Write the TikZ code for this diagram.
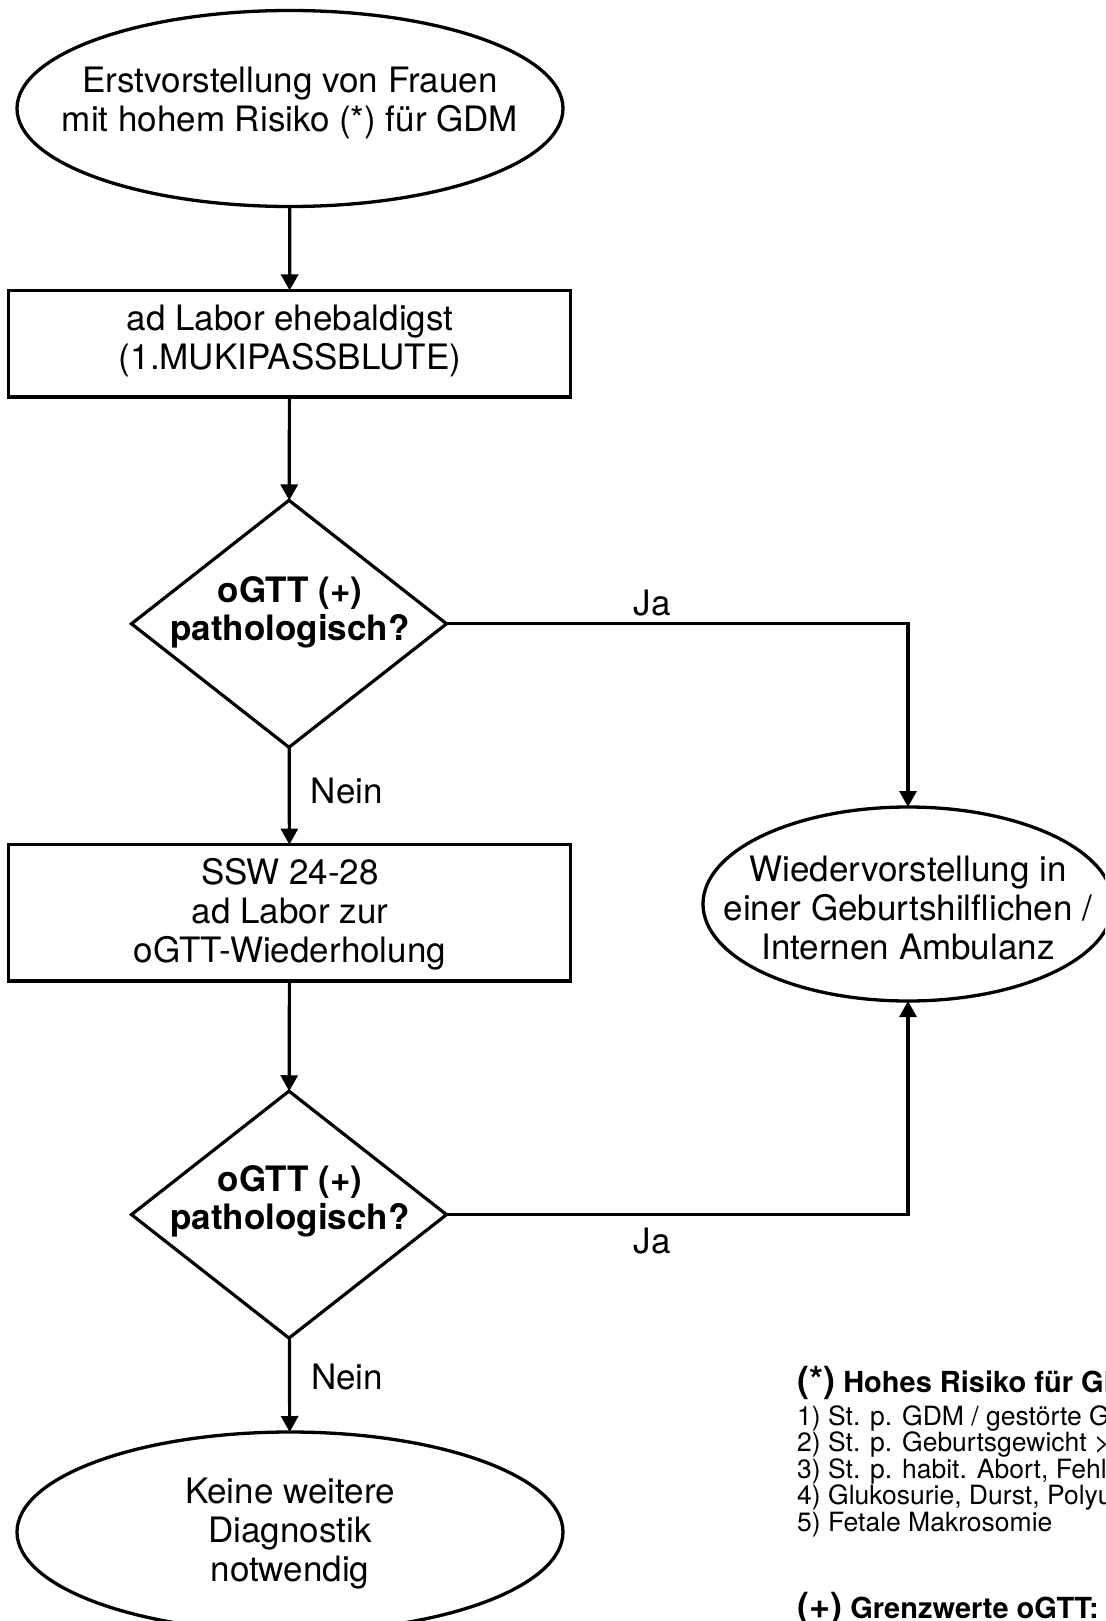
\documentclass[tikz,border=0pt]{standalone}
\usepackage{fontspec}
\setmainfont{TeX Gyre Heros}
\usetikzlibrary{arrows.meta}
\usetikzlibrary{shapes.geometric}
\tikzset{>={Triangle[length=16pt,width=17pt]}}
\tikzset{
  box/.style={draw, rectangle, line width=3.2pt, minimum width=562pt, inner sep=0pt, outer sep=0pt},
  term/.style={draw, ellipse, line width=3.3pt, inner sep=0pt, outer sep=0pt},
  ask/.style={draw, diamond, line width=3.2pt, minimum width=315pt, minimum height=247pt, inner sep=0pt, outer sep=0pt},
  txt/.style={align=center, font=\fontsize{35}{39}\selectfont, inner sep=0pt},
  asktxt/.style={align=center, font=\bfseries\fontsize{35}{38}\selectfont, inner sep=0pt},
  flow/.style={->, line width=3.2pt},
  lbl/.style={font=\fontsize{35}{39}\selectfont, inner sep=2pt},
  note/.style={font=\fontsize{26.5}{26.5}\selectfont, inner sep=0pt, anchor=base west},
}

\begin{document}
\begin{tikzpicture}[x=1pt, y=-1pt]
  \useasboundingbox (0,0) rectangle (1105,1621);
  \clip (0,0) rectangle (1105,1621);

  % shapes of the flow
  \node[term, minimum width=546pt, minimum height=196pt] (start) at (290,108.5) {};
  \node[box, minimum height=106.5pt] (lab1) at (289.5,343.7) {};
  \node[ask] (q1) at (289,623.8) {};
  \node[box, minimum height=136.5pt] (lab2) at (289.5,912.8) {};
  \node[ask] (q2) at (289,1214.6) {};
  \node[term, minimum width=546pt, minimum height=200pt] (stop) at (290,1532) {};
  \node[term, minimum width=410pt, minimum height=194pt] (amb) at (908,904) {};

  % texts
  \node[txt] (startT) at (290,103) {Erstvorstellung von Frauen\\mit hohem Risiko (*) für GDM};
  \node[txt] (lab1T) at (290,341) {ad Labor ehebaldigst\\(1.MUKIPASSBLUTE)};
  \node[asktxt] (q1T) at (290,612) {oGTT (+)\\pathologisch?};
  \node[txt] (lab2T) at (290,914) {SSW 24-28\\ad Labor zur\\oGTT-Wiederholung};
  \node[asktxt] (q2T) at (290,1201) {oGTT (+)\\pathologisch?};
  \node[txt] (stopT) at (290,1534) {Keine weitere\\Diagnostik\\notwendig};
  \node[txt] (ambT) at (908,908) {Wiedervorstellung in\\einer Geburtshilflichen /\\Internen Ambulanz};

  % connectors
  \draw[flow] (start) -- (lab1);
  \draw[flow] (lab1) -- (q1);
  \draw[flow] (q1) -- node[lbl, right=18pt, pos=.45] (nein1) {Nein} (lab2);
  \draw[flow] (q1.east) -| node[lbl, above=4pt, pos=.223] (ja1) {Ja} (amb.north);
  \draw[flow] (lab2) -- (q2);
  \draw[flow] (q2) -- node[lbl, right=18pt, pos=.42] (nein2) {Nein} (stop);
  \draw[flow] (q2.east) -| node[lbl, below=10pt, pos=.223] (ja2) {Ja} (amb.south);

  % legend
  \node[note, font=\bfseries\fontsize{29}{29}\selectfont] (riskhead) at (797,1392)
    {{\fontsize{36}{36}\selectfont(*)} Hohes Risiko für GDM};
  \foreach \txt [count=\i] in {1) St. p. GDM / gestörte Glukosetoleranz,
      2) St. p. Geburtsgewicht >, {3) St. p. habit. Abort, Fehlbildung},
      {4) Glukosurie, Durst, Polyurie}, 5) Fetale Makrosomie} {
    \node[note] (risk\i) at (797,{1398.5+26.5*\i}) {\txt};
  }
  \node[note, font=\bfseries\fontsize{29}{29}\selectfont] (limithead) at (797,1618)
    {{\fontsize{36}{36}\selectfont(+)} Grenzwerte oGTT:};
\end{tikzpicture}
\end{document}
